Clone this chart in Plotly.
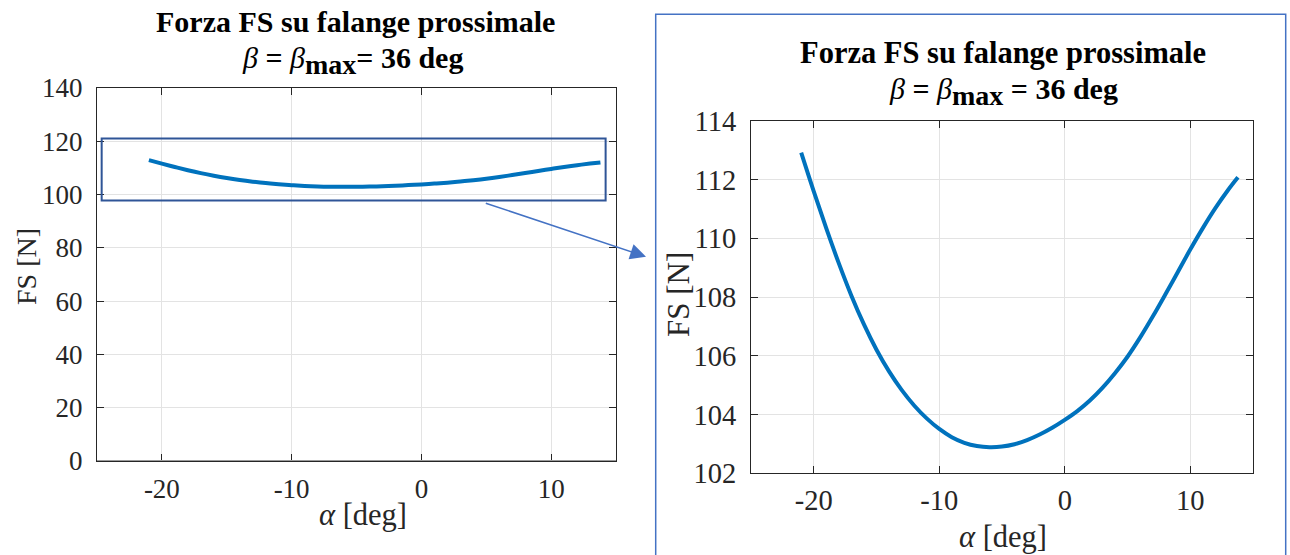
import plotly.graph_objects as go

# Joint angle alpha [deg] and resulting force FS [N] on the proximal phalanx (beta = beta_max = 36 deg)
alpha_deg = [-21.0, -20.0, -19.0, -18.0, -17.0, -16.0, -15.0, -14.0, -13.0, -12.0,
             -11.0, -10.0, -9.0, -8.0, -7.0, -6.0, -5.0, -4.0, -3.0, -2.0,
             -1.0, 0.0, 1.0, 2.0, 3.0, 4.0, 5.0, 6.0, 7.0, 8.0,
             9.0, 10.0, 11.0, 12.0, 13.0, 13.8]
fs_newton = [112.92, 111.60, 110.34, 109.15, 108.05, 107.07, 106.21, 105.47, 104.84, 104.31,
             103.87, 103.51, 103.23, 103.04, 102.93, 102.89, 102.91, 102.99, 103.13, 103.32,
             103.55, 103.82, 104.12, 104.48, 104.91, 105.41, 105.97, 106.62, 107.33, 108.08,
             108.85, 109.62, 110.35, 111.03, 111.64, 112.08]

x_ticks = [-20, -10, 0, 10]
x_tick_labels = ["-20", "-10", "0", "10"]
y_ticks_full = [0, 20, 40, 60, 80, 100, 120, 140]
y_ticks_zoom = [102, 104, 106, 108, 110, 112, 114]

# zoom window drawn on the full-range plot
zoom_x = [-24.64, 14.2]
zoom_y = [97.8, 121.0]

W, H = 1290, 555
FONT = "Liberation Serif, Times New Roman, serif"
INK = "#262626"
LINE_BLUE = "#0072BD"


def px(x):
    return x / W


def py(y):
    return 1 - y / H


fig = go.Figure()
for xa, ya in (("x", "y"), ("x2", "y2")):
    fig.add_trace(go.Scatter(x=alpha_deg, y=fs_newton, mode="lines",
                             line=dict(color=LINE_BLUE, width=4, shape="spline", smoothing=1.0),
                             xaxis=xa, yaxis=ya, showlegend=False, hoverinfo="skip"))

axis_common = dict(
    showline=True, linecolor=INK, linewidth=1, mirror="ticks",
    ticks="inside", ticklen=7, tickcolor=INK, tickwidth=1,
    showgrid=True, gridcolor="#e3e3e3", gridwidth=1, zeroline=False,
    fixedrange=True, automargin=False,
)

fig.update_layout(
    width=W, height=H, autosize=False,
    margin=dict(l=0, r=0, t=0, b=0, pad=0, autoexpand=False),
    paper_bgcolor="white", plot_bgcolor="white",
    showlegend=False,
    xaxis=dict(axis_common, domain=[px(97), px(616)], range=[-25, 15],
               tickvals=x_ticks, ticktext=x_tick_labels,
               tickfont=dict(family=FONT, size=27, color=INK),
               ticklabelstandoff=4, anchor="y"),
    yaxis=dict(axis_common, domain=[py(461), py(88)], range=[0, 140],
               tickvals=y_ticks_full, tickfont=dict(family=FONT, size=27, color=INK),
               ticklabelstandoff=8, anchor="x"),
    xaxis2=dict(axis_common, domain=[px(751), px(1253)], range=[-25, 15],
                tickvals=x_ticks, ticktext=x_tick_labels,
                tickfont=dict(family=FONT, size=28.5, color=INK),
                ticklabelstandoff=1, anchor="y2"),
    yaxis2=dict(axis_common, domain=[py(473.3), py(121)], range=[102, 114],
                tickvals=y_ticks_zoom, tickfont=dict(family=FONT, size=28.5, color=INK),
                ticklabelstandoff=8, anchor="x2"),
)

shapes = [
    # gray baseline along the bottom of the full-range plot
    dict(type="line", xref="x domain", yref="y", x0=0, x1=1, y0=0, y1=0,
         line=dict(color="#9a9a9a", width=2), layer="above"),
    # zoom window on the full plot
    dict(type="rect", xref="x", yref="y", x0=zoom_x[0], x1=zoom_x[1], y0=zoom_y[0], y1=zoom_y[1],
         line=dict(color="#2F5597", width=2), fillcolor="rgba(0,0,0,0)", layer="above"),
    # frame around the detail panel
    dict(type="rect", xref="paper", yref="paper", x0=px(655.7), x1=px(1285.7), y0=py(570), y1=py(14.3),
         line=dict(color="#4472C4", width=1.5), fillcolor="rgba(0,0,0,0)", layer="above"),
]
fig.update_layout(shapes=shapes)

annotations = []


def text(x, y, s, size, **kw):
    annotations.append(dict(xref="paper", yref="paper", x=px(x), y=py(y), text=s, showarrow=False,
                            font=dict(family=FONT, size=size, color=kw.pop("color", "black")),
                            xanchor="center", yanchor="middle", **kw))


def beta_title(sub_size, gap):
    return ("<i>β</i> <b>=</b> <i>β</i><sub><b><span style='font-size:%dpx'>max</span></b></sub>"
            "<b>%s= 36 deg</b>" % (sub_size, gap))


title1 = "<b>Forza FS su falange prossimale</b>"

# full-range plot titles
text(355, 21, title1, 30)
text(352, 60, beta_title(28, ""), 30)
text(26, 267, "FS [N]", 28, color=INK, textangle=-90)
text(363, 515, "<i>α</i> [deg]", 30.5, color=INK)

# detail plot titles
text(1003, 53, title1, 30.5)
text(1003, 92, beta_title(28, " "), 30)
text(678, 295, "FS [N]", 31, color=INK, textangle=-90)
text(1003, 537, "<i>α</i> [deg]", 30.5, color=INK)

# arrow from the zoom window to the detail panel
annotations.append(dict(xref="paper", yref="paper", x=px(646), y=py(256.7),
                        ax=484.3 - 646, ay=202.7 - 256.7, axref="pixel", ayref="pixel",
                        showarrow=True, arrowhead=2, arrowsize=2.1, arrowwidth=1.5,
                        arrowcolor="#4472C4", text=""))

fig.update_layout(annotations=annotations)

fig.write_html("out.html", config={"displayModeBar": False})
